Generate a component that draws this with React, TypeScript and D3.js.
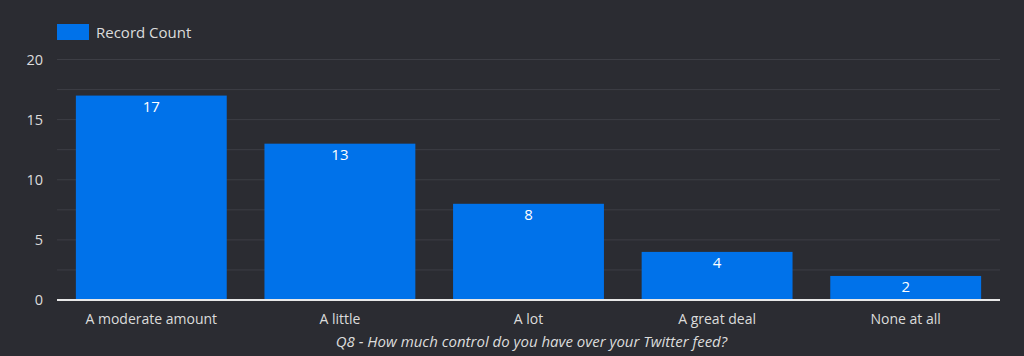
import React from "react";
import * as d3 from "d3";

const categories = ["A moderate amount", "A little", "A lot", "A great deal", "None at all"];
const counts = [17, 13, 8, 4, 2];
const yTicks = [0, 5, 10, 15, 20];
const gridValues = [0, 2.5, 5, 7.5, 10, 12.5, 15, 17.5, 20];
const seriesName = "Record Count";
const axisTitle = "Q8 - How much control do you have over your Twitter feed?";

const W = 1024;
const H = 356;
const M = { left: 57, right: 24, top: 59.5, bottom: 56 };
const BG = "#2b2c32";
const BAR = "#0072ea";
const TEXT = "#dcdcdc";
const FONT = "'Open Sans', sans-serif";

export default function App() {
  const x = d3
    .scaleBand<string>()
    .domain(categories)
    .range([M.left, W - M.right])
    .paddingInner(0.2)
    .paddingOuter(0.1);
  const y = d3.scaleLinear().domain([0, 20]).range([H - M.bottom, M.top]);

  return (
    <svg
      width={W}
      height={H}
      style={{ position: "absolute", left: 0, top: 0, display: "block" }}
      fontFamily={FONT}
    >
      <rect x={0} y={0} width={W} height={H} fill={BG} />
      {gridValues.map((v) => (
        <line
          key={v}
          x1={M.left}
          x2={W - M.right}
          y1={y(v)}
          y2={y(v)}
          stroke="#3d3e45"
          strokeWidth={1}
        />
      ))}
      {yTicks.map((v) => (
        <text
          key={v}
          x={43}
          y={y(v)}
          dy="0.35em"
          textAnchor="end"
          fill={TEXT}
          fontSize={14.5}
        >
          {v}
        </text>
      ))}
      {categories.map((c, i) => (
        <g key={c}>
          <rect
            x={x(c)}
            y={y(counts[i])}
            width={x.bandwidth()}
            height={y(0) - y(counts[i])}
            fill={BAR}
          />
          <text
            x={(x(c) as number) + x.bandwidth() / 2}
            y={y(counts[i]) + 16}
            textAnchor="middle"
            fill="#ffffff"
            fontSize={15}
          >
            {counts[i]}
          </text>
          <text
            x={(x(c) as number) + x.bandwidth() / 2}
            y={324}
            textAnchor="middle"
            fill={TEXT}
            fontSize={14}
          >
            {c}
          </text>
        </g>
      ))}
      <line
        x1={M.left}
        x2={W - M.right}
        y1={y(0)}
        y2={y(0)}
        stroke="#e8e8e8"
        strokeWidth={2}
      />
      <text
        x={(M.left + W - M.right) / 2 + 3}
        y={347}
        textAnchor="middle"
        fill={TEXT}
        fontSize={15}
        fontStyle="italic"
      >
        {axisTitle}
      </text>
      <rect x={57} y={24} width={32} height={16} fill={BAR} />
      <text x={96} y={38} fill={TEXT} fontSize={15}>
        {seriesName}
      </text>
    </svg>
  );
}
